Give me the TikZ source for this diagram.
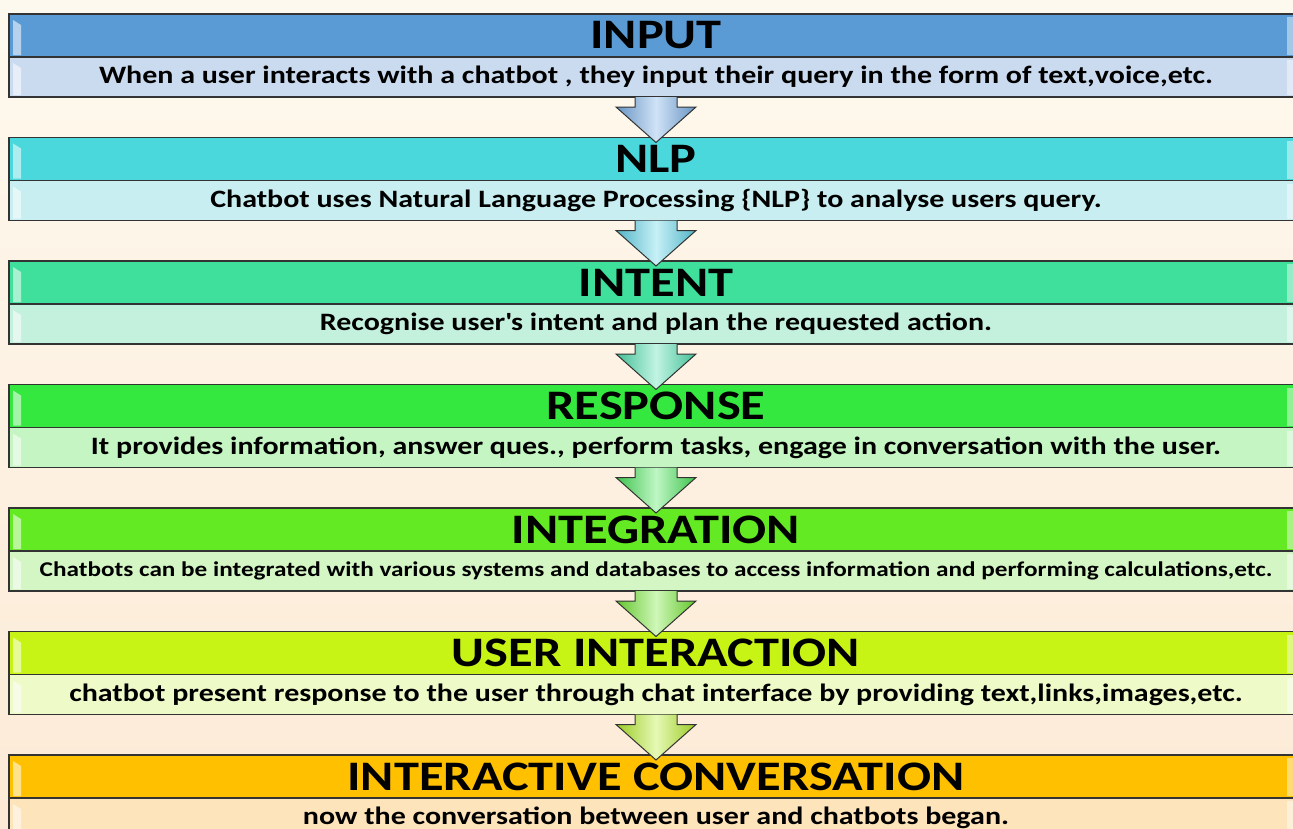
\documentclass[tikz,border=0pt]{standalone}
\usepackage{fontspec}
\setmainfont{Carlito}[FakeStretch=1.2]
\usetikzlibrary{positioning,calc}

\definecolor{bgcream}{HTML}{FEF9EE}
\definecolor{bgpeach}{HTML}{FCEAD6}
\definecolor{inputhd}{HTML}{5B9BD5}
\definecolor{inputtx}{HTML}{CADAEF}
\definecolor{inputar}{HTML}{79AEE6}
\definecolor{nlphd}{HTML}{4BD8DC}
\definecolor{nlptx}{HTML}{C8EEF1}
\definecolor{nlpar}{HTML}{5FD4E8}
\definecolor{intenthd}{HTML}{3EE09B}
\definecolor{intenttx}{HTML}{C4F1DE}
\definecolor{intentar}{HTML}{4FE0B0}
\definecolor{resphd}{HTML}{35E83F}
\definecolor{resptx}{HTML}{C4F5C2}
\definecolor{respar}{HTML}{48E658}
\definecolor{integhd}{HTML}{63EA22}
\definecolor{integtx}{HTML}{D4F6C4}
\definecolor{integar}{HTML}{74E834}
\definecolor{userhd}{HTML}{C8F415}
\definecolor{usertx}{HTML}{EFFAC9}
\definecolor{userar}{HTML}{B6EE2A}
\definecolor{convhd}{HTML}{FFC000}
\definecolor{convtx}{HTML}{FDE4BA}

\tikzset{
  hdr/.style={draw=black!80, line width=1.3pt, minimum width=1294pt,
    minimum height=43pt, inner sep=0pt, outer sep=0pt,
    font=\fontsize{42}{42}\selectfont\bfseries},
  txt/.style={hdr, minimum height=40pt,
    font=\fontsize{25}{25}\selectfont\bfseries},
  flow/.style={draw=black!80, line width=1pt, line join=miter},
}

% down arrow from the text bar of one step to the header of the next
\newcommand{\flowarrow}[3]{%
  \draw[flow, left color=#3!85!black, right color=#3!85!black, middle color=#3!35!white]
    ($(#1.south)+(-21,0)$) -- ($(#1.south)+(-21,10)$) -- ($(#1.south)+(-40,10)$)
    -- ($(#2.north)+(0,5)$) -- ($(#1.south)+(40,10)$) -- ($(#1.south)+(21,10)$)
    -- ($(#1.south)+(21,0)$);
}

\begin{document}
\begin{tikzpicture}[x=1pt, y=-1pt]
  \useasboundingbox (0,0) rectangle (1293,828);
  \clip (0,0) rectangle (1293,828);
  \shade[top color=bgcream, bottom color=bgpeach] (0,0) rectangle (1293,828);

  \node[hdr, fill=inputhd] (h1) at (656,35.5) {INPUT};
  \node[txt, fill=inputtx, below=0pt of h1] (t1) {When a user interacts with a chatbot , they input their query in the form of text,voice,etc.};

  \node[hdr, fill=nlphd, below=40.5pt of t1] (h2) {NLP};
  \node[txt, fill=nlptx, below=0pt of h2] (t2) {Chatbot uses Natural Language Processing \{NLP\} to analyse users query.};

  \node[hdr, fill=intenthd, below=40.5pt of t2] (h3) {INTENT};
  \node[txt, fill=intenttx, below=0pt of h3] (t3) {Recognise user\textquotesingle s intent and plan the requested action.};

  \node[hdr, fill=resphd, below=40.5pt of t3] (h4) {RESPONSE};
  \node[txt, fill=resptx, below=0pt of h4] (t4) {It provides information, answer ques., perform tasks, engage in conversation with the user.};

  \node[hdr, fill=integhd, below=40.5pt of t4] (h5) {INTEGRATION};
  \node[txt, fill=integtx, below=0pt of h5, font=\fontsize{21}{21}\selectfont\bfseries] (t5) {Chatbots can be integrated with various systems and databases to access information and performing calculations,etc.};

  \node[hdr, fill=userhd, below=40.5pt of t5] (h6) {USER INTERACTION};
  \node[txt, fill=usertx, below=0pt of h6] (t6) {chatbot present response to the user through chat interface by providing text,links,images,etc.};

  \node[hdr, fill=convhd, below=40.5pt of t6] (h7) {INTERACTIVE CONVERSATION};
  \node[txt, fill=convtx, below=0pt of h7] (t7) {now the conversation between user and chatbots began.};

  % glossy strips at the bar ends
  \foreach \n in {h1,t1,h2,t2,h3,t3,h4,t4,h5,t5,h6,t6,h7,t7}{
    \fill[white, opacity=.55] ($(\n.north west)+(4,6)$) -- ($(\n.north west)+(12,11)$)
      -- ($(\n.south west)+(12,-2)$) -- ($(\n.south west)+(4,-2)$) -- cycle;
    \fill[white, opacity=.45] ($(\n.north east)+(-16,3)$) rectangle ($(\n.south east)+(-10,-2)$);
  }

  \flowarrow{t1}{h2}{inputar}
  \flowarrow{t2}{h3}{nlpar}
  \flowarrow{t3}{h4}{intentar}
  \flowarrow{t4}{h5}{respar}
  \flowarrow{t5}{h6}{integar}
  \flowarrow{t6}{h7}{userar}
\end{tikzpicture}
\end{document}
